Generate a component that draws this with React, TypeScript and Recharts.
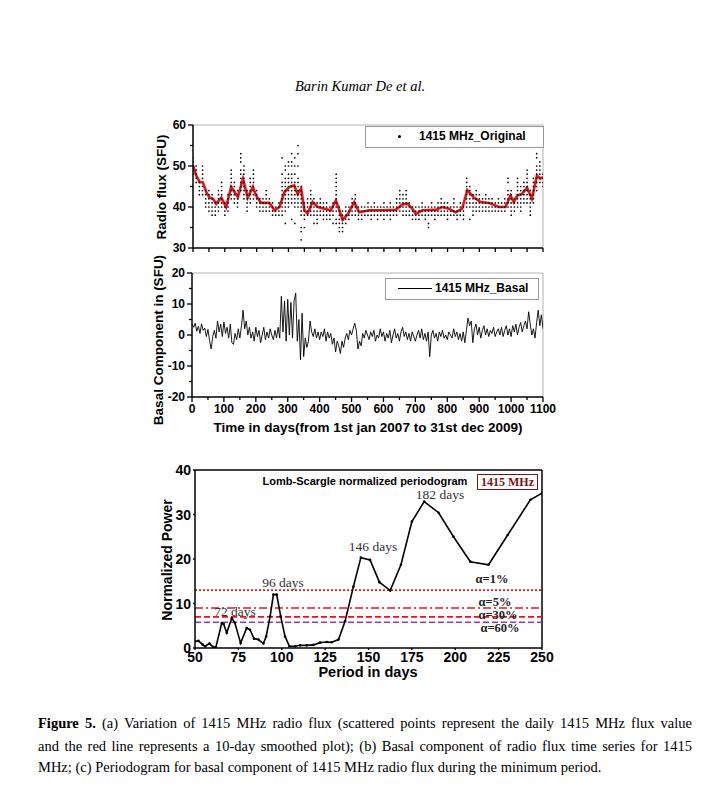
import React from "react";
import { ComposedChart, Line, Scatter, XAxis, YAxis, ReferenceLine } from "recharts";

const SANS = "'Liberation Sans', Arial, sans-serif";
const SERIF = "'Liberation Serif', 'Times New Roman', serif";

// (a) daily 1415 MHz flux, one column of readings every 10 days
const fluxColumns = [
  [52, 51, 50, 49, 48], [50, 49, 48, 47, 46], [46, 45, 44, 43], [50, 49, 48, 47, 45, 44, 43],
  [44, 43, 42, 41, 40], [44, 43, 42, 41, 40, 39], [43, 42, 41, 40, 39, 38], [41, 40, 39, 38],
  [44, 43, 42, 41, 40, 39], [46, 45, 44, 43, 42, 41, 40], [41, 40, 39, 38], [43, 42, 41, 40, 39],
  [49, 48, 47, 46, 45, 44, 43, 42], [46, 45, 44, 43, 42, 41], [44, 43, 42, 41, 40],
  [53, 52, 51, 49, 48, 47, 46, 45, 44], [50, 49, 48, 47, 46, 45, 44, 43, 42], [44, 43, 42, 41, 40, 39],
  [47, 46, 45, 44, 43, 42, 41], [49, 48, 47, 46, 45, 44, 43, 42], [44, 43, 42, 41, 40],
  [42, 41, 40, 39], [42, 41, 40, 39], [44, 43, 42, 41, 40, 39], [42, 41, 40, 39], [41, 40, 39, 38],
  [40, 39, 38], [41, 40, 39, 38], [52, 48, 46, 45, 44, 43, 42, 41, 40, 39, 38],
  [50, 49, 47, 46, 45, 44, 43, 42, 41, 40, 39, 36], [51, 50, 48, 47, 46, 45, 44, 43, 42, 41, 40],
  [53, 51, 50, 48, 47, 46, 45, 44, 43, 42, 41, 37], [52, 50, 48, 46, 45, 44, 43, 42, 41, 40, 36],
  [55, 53, 50, 47, 46, 45, 44, 43, 42, 41, 40], [45, 44, 43, 42, 41, 40, 39, 38, 35, 34, 32],
  [41, 40, 39, 38, 37, 35], [42, 41, 40, 39, 38], [44, 43, 42, 41, 40, 39, 38], [42, 41, 40, 39, 38, 36],
  [41, 40, 39, 38, 37, 36], [42, 41, 40, 39, 38], [41, 40, 39, 38, 37], [41, 40, 39, 38, 37],
  [40, 39, 38, 37], [41, 40, 39, 38, 36], [48, 47, 46, 45, 44, 43, 42, 41, 40, 39, 37, 36],
  [40, 39, 38, 37, 36, 35, 34], [39, 38, 37, 36, 35, 34], [40, 39, 38, 37, 36], [40, 39, 38, 37],
  [42, 41, 40, 39, 38], [43, 42, 41, 40, 39, 38], [40, 39, 38, 37], [40, 39, 38, 37], [40, 39, 38],
  [41, 40, 39, 38], [40, 39, 38, 37], [41, 40, 39, 38], [40, 39, 38, 37], [40, 39, 38],
  [41, 40, 39, 38, 37], [40, 39, 38], [41, 40, 39, 38, 37], [40, 39, 38], [42, 41, 40, 39, 38],
  [44, 43, 42, 41, 40, 39], [43, 42, 41, 40, 39, 38], [44, 43, 42, 41, 40, 39, 38], [41, 40, 39, 38],
  [40, 39, 38, 37], [40, 39, 38, 37], [40, 39, 38, 37], [41, 40, 39, 38], [40, 39, 38, 37],
  [40, 39, 38, 36, 35], [41, 40, 39, 38], [40, 39, 38, 37], [41, 40, 39, 38], [42, 41, 40, 39, 38],
  [41, 40, 39, 38], [41, 40, 39, 38, 37], [40, 39, 38], [42, 41, 40, 39, 38], [40, 39, 38, 37],
  [41, 40, 39, 38], [40, 39, 38, 37], [47, 46, 45, 44, 43, 42, 41, 40], [45, 44, 43, 42, 41, 40, 37],
  [43, 42, 41, 40, 39, 38], [44, 43, 42, 41, 40, 39], [43, 42, 41, 40, 39], [42, 41, 40, 39],
  [43, 42, 41, 40, 39], [42, 41, 40, 39], [42, 41, 40, 39], [41, 40, 39], [42, 41, 40, 39],
  [41, 40, 39], [42, 41, 40, 39], [47, 46, 44, 43, 42, 41, 40], [44, 43, 42, 41, 40, 39, 38],
  [42, 41, 40, 39], [47, 46, 45, 44, 43, 42, 41, 40], [45, 44, 43, 42, 41, 40, 39],
  [46, 45, 44, 43, 42, 41], [49, 48, 47, 46, 45, 44, 43, 42, 41], [44, 43, 42, 41, 40, 39, 38],
  [47, 46, 45, 44, 43, 42, 41], [53, 52, 50, 49, 48, 47, 46, 45, 44], [51, 50, 49, 48, 47, 46],
  [48, 47, 46, 45],
];

// (a) 10-day smoothed curve
const smoothDays = [
  0, 10, 21, 31, 42, 52, 63, 73, 89, 104, 120, 131, 141, 157, 172, 188, 198, 214, 240, 256,
  272, 287, 303, 318, 329, 340, 350, 360, 376, 392, 413, 433, 449, 460, 470, 486, 507, 522, 554, 595,
  637, 658, 674, 689, 700, 721, 763, 783, 804, 825, 846, 862, 883, 904, 930, 961, 982, 998, 1008, 1019,
  1034, 1050, 1065, 1081, 1092, 1100,
];
const smoothFlux = [
  50.2, 47.7, 46.1, 46, 43.6, 42.3, 42, 40.8, 42.3, 40, 44.9, 43.6, 42.4, 46.9, 42.3, 44.9, 42.8, 41, 41, 39.2,
  40, 43.6, 44.9, 45.3, 43.2, 44.5, 39.2, 38.4, 41.2, 40, 39.6, 39.2, 41.6, 39.2, 36.9, 38.2, 41.2, 38.7, 39.2, 39.2,
  39.3, 40.6, 40.8, 39.6, 38.3, 39.2, 39.3, 40, 39.6, 38.7, 39.6, 44.1, 42.3, 41.2, 41, 40, 40, 42.8, 41.2, 42.8,
  43.2, 44.7, 42, 47.7, 46.9, 47.3,
];

// (b) basal component, one value every 5 days
const basalValues = [
  3.5, 2.5, 3.8, 1.2, 2.8, 0.5, 3.6, 1.5, 2.2, -0.5, 1.8, -1.8, -4.5, -0.5, 1.5, -1, 4.5, 1, 3.5, -0.5,
  4.2, 0.5, 2.5, -1, 3.5, -2.5, -3, 0.5, -1.5, 2, -1, 3, 8, 2, 4.5, 0, 2.5, -1, 1, -2,
  2.5, -0.5, 1.5, -2.5, 0, 2.5, -1.5, 1, -1, 2, 0, -1.5, 1.5, -1, 2.5, -1, 12.5, 1, 11, -2,
  11.5, 0, 10.5, -1, 11, 13.5, -2, 5, -8, 7, -7, -1, -4, -2, 4.5, 1, -0.5, 2, -1, 1,
  -1.5, 1, -0.5, 2, -2, 1, -1, 0.5, -3, -1, -5.5, -2, -3.5, -6, -2, -4, -1, 0.5, -1.5, 1.5,
  0, 2, 3.8, 1.5, -4.5, -2, -3.5, 0.5, -1, 1.5, 0, -1.5, 1, -0.5, 1.5, -2, 0, -1, 2, -0.5,
  1, -2, 0.5, -1, 1.5, -2.5, 0, 2, -1, 0.5, -2, 1, 2.5, -0.5, 1, -1.5, 0.5, -2, 1, -0.5,
  -2, 0, 1.5, -1, 2, -1.5, 0.5, -2, 1, -7, 0, 1.5, -1, 0.5, -2, 1, -0.5, 1.5, -1, 0,
  -1.5, 1, 0, -1, 2, -0.5, 1, -1.5, 0.5, -2, 1, -2.5, 1.5, 5.5, 3, 4.5, -2.5, 2, 3.5, 0,
  2.5, -1, 1.5, 3, 0, 2, -0.5, 1.5, 0.5, 2.5, -0.5, 1, 2, 0, 2.5, -0.5, 1.5, 3, 0, 2,
  -0.5, 3, 1, 3.5, 0, 2.5, 4, 1, 3, 4.5, 2, 7.5, 3.5, 0, 2, -1, 4, 8, 3, 6.5,
  2,
];

// (c) Lomb-Scargle periodogram
const periodDays = [
  50, 52, 54.4, 55.8, 58.3, 60.6, 62, 65.4, 66.5, 68.3, 71.2, 73, 76.3, 79.8, 81.7, 84, 86.5, 89.4, 91, 93.3,
  95.2, 97.1, 99.4, 101.9, 104.4, 107.7, 110.6, 114.4, 118.3, 122.1, 126, 128.8, 132.7, 136.5, 141.3, 145.6,
  150.9, 156.3, 162.5, 168.7, 175, 182.1, 190.4, 199, 208.7, 219.2, 230.2, 243.3, 250,
];
const periodPower = [
  1.5, 1.6, 0.75, 0.4, 1.0, 0.2, 0.15, 5.6, 5.4, 3.4, 6.7, 5.6, 1.1, 4.5, 4.1, 2.1, 1.9, 1.0, 2.6, 7.1,
  12, 12, 7.1, 2.6, 0.4, 0.4, 0.6, 0.6, 0.7, 1.2, 1.35, 1.3, 1.9, 6.0, 13.8, 20.3,
  19.8, 14.8, 12.9, 18.7, 28.4, 32.9, 30.4, 25, 19.4, 18.7, 25.4, 33.3, 34.8,
];
const alphaLevels = [13, 9, 7, 5.8];

const fluxPoints = fluxColumns.flatMap((col, i) => col.map((v) => ({ day: i * 10, flux: v })));
const smoothData = smoothDays.map((d, i) => ({ day: d, flux: smoothFlux[i] }));
const basalData = basalValues.map((v, i) => ({ day: i * 5, basal: v }));
const periodData = periodDays.map((d, i) => ({ period: d, power: periodPower[i] }));

const dayTicks = Array.from({ length: 23 }, (_, i) => i * 50);

const leftTick = (major: number, fontSize: number, len: number, minorLen: number) => (p: any) => {
  const v = p.payload.value;
  const isMajor = Math.abs(v % major) < 1e-6;
  return (
    <g>
      <line x1={p.x} y1={p.y} x2={p.x - (isMajor ? len : minorLen)} y2={p.y} stroke="#000" strokeWidth={1.3} />
      {isMajor && (
        <text x={p.x - len - 2} y={p.y} textAnchor="end" dominantBaseline="central"
          fontFamily={SANS} fontWeight="bold" fontSize={fontSize} fill="#000">{v}</text>
      )}
    </g>
  );
};

const bottomTick = (major: number, fontSize: number, len: number, minorLen: number, labels = true) => (p: any) => {
  const v = p.payload.value;
  const isMajor = Math.abs(v % major) < 1e-6;
  return (
    <g>
      <line x1={p.x} y1={p.y} x2={p.x} y2={p.y + (isMajor ? len : minorLen)} stroke="#000" strokeWidth={1.3} />
      {labels && isMajor && (
        <text x={p.x} y={p.y + len + 2} textAnchor="middle" dominantBaseline="hanging"
          fontFamily={SANS} fontWeight="bold" fontSize={fontSize} fill="#000">{v}</text>
      )}
    </g>
  );
};

const dot = (p: any) => <circle cx={p.cx} cy={p.cy} r={0.85} fill="#000" />;

const abs = (left: number, top: number, extra: React.CSSProperties = {}): React.CSSProperties => ({
  position: "absolute", left, top, ...extra,
});

const bold = (size: number): React.CSSProperties => ({
  fontFamily: SANS, fontWeight: "bold", fontSize: size, color: "#000", whiteSpace: "nowrap",
});

export default function App() {
  return (
    <div style={{ position: "absolute", left: 0, top: 0, width: 709, height: 787, background: "#fff", overflow: "hidden" }}>
      <div style={abs(0, 78, { width: 720, textAlign: "center", fontFamily: SERIF, fontStyle: "italic", fontSize: 14.5 })}>
        Barin Kumar De et al.
      </div>

      {/* (a) original flux */}
      <div style={abs(0, 115)}>
        <ComposedChart width={709} height={145} margin={{ top: 10, right: 166, bottom: 0, left: 153 }}>
          <XAxis dataKey="day" type="number" domain={[0, 1100]} ticks={dayTicks} interval={0}
            height={12} tickSize={0} tickMargin={0} axisLine={{ stroke: "#000", strokeWidth: 1.5 }}
            tick={bottomTick(100, 11, 4, 4, false)} allowDataOverflow />
          <YAxis type="number" domain={[30, 60]} ticks={[30, 35, 40, 45, 50, 55, 60]} interval={0}
            width={40} tickSize={0} tickMargin={0} axisLine={{ stroke: "#000", strokeWidth: 1.5 }}
            tick={leftTick(10, 12, 5, 3)} allowDataOverflow />
          <ReferenceLine y={60} stroke="#b0b0b0" strokeWidth={1} />
          <ReferenceLine x={1100} stroke="#b0b0b0" strokeWidth={1} />
          <Scatter data={fluxPoints} dataKey="flux" shape={dot} isAnimationActive={false} />
          <Line data={smoothData} dataKey="flux" type="linear" stroke="#e3161b" strokeWidth={2.6}
            dot={false} activeDot={false} isAnimationActive={false} />
        </ComposedChart>
      </div>
      <div style={abs(365, 126, { width: 177, height: 20, border: "1px solid #999", background: "#fff" })} />
      <div style={abs(398, 135, { width: 3, height: 3, borderRadius: 2, background: "#000" })} />
      <div style={abs(419, 129, bold(12))}>1415 MHz_Original</div>
      <div style={abs(161, 187, { ...bold(13.5), transform: "translate(-50%, -50%) rotate(-90deg)" })}>Radio flux (SFU)</div>

      {/* (b) basal component */}
      <div style={abs(0, 263)}>
        <ComposedChart width={709} height={159} data={basalData} margin={{ top: 10, right: 166, bottom: 0, left: 152 }}>
          <XAxis dataKey="day" type="number" domain={[0, 1100]} ticks={dayTicks} interval={0}
            height={25} tickSize={0} tickMargin={0} axisLine={{ stroke: "#000", strokeWidth: 1.5 }}
            tick={bottomTick(100, 12, 5, 3)} allowDataOverflow />
          <YAxis type="number" domain={[-20, 20]} ticks={[-20, -15, -10, -5, 0, 5, 10, 15, 20]} interval={0}
            width={40} tickSize={0} tickMargin={0} axisLine={{ stroke: "#000", strokeWidth: 1.5 }}
            tick={leftTick(10, 12, 5, 3)} allowDataOverflow />
          <ReferenceLine y={20} stroke="#b0b0b0" strokeWidth={1} />
          <ReferenceLine x={1100} stroke="#b0b0b0" strokeWidth={1} />
          <Line dataKey="basal" type="linear" stroke="#000" strokeWidth={0.9}
            dot={false} activeDot={false} isAnimationActive={false} />
        </ComposedChart>
      </div>
      <div style={abs(385, 278, { width: 152, height: 20, border: "1px solid #999", background: "#fff" })} />
      <div style={abs(398, 288, { width: 34, height: 1, background: "#000" })} />
      <div style={abs(435, 281, bold(12))}>1415 MHz_Basal</div>
      <div style={abs(158, 340, { ...bold(13.5), transform: "translate(-50%, -50%) rotate(-90deg)" })}>Basal Component in (SFU)</div>
      <div style={abs(368, 427, { ...bold(13.5), transform: "translate(-50%, -50%)" })}>
        Time in days(from 1st jan 2007 to 31st dec 2009)
      </div>

      {/* (c) periodogram */}
      <div style={abs(0, 460)}>
        <ComposedChart width={709} height={213} data={periodData} margin={{ top: 10, right: 167, bottom: 0, left: 155 }}>
          <XAxis dataKey="period" type="number" domain={[50, 250]} ticks={[50, 75, 100, 125, 150, 175, 200, 225, 250]}
            interval={0} height={25} tickSize={0} tickMargin={0} axisLine={{ stroke: "#000", strokeWidth: 1.5 }}
            tick={bottomTick(25, 14, 2, 2)} allowDataOverflow />
          <YAxis type="number" domain={[0, 40]} ticks={[0, 10, 20, 30, 40]} interval={0}
            width={40} tickSize={0} tickMargin={0} axisLine={{ stroke: "#000", strokeWidth: 1.5 }}
            tick={leftTick(10, 14, 2, 2)} allowDataOverflow />
          <ReferenceLine y={40} stroke="#000" strokeWidth={1.5} />
          <ReferenceLine x={250} stroke="#000" strokeWidth={1.5} />
          <ReferenceLine y={alphaLevels[0]} stroke="#e3161b" strokeWidth={1.6} strokeDasharray="2 2" />
          <ReferenceLine y={alphaLevels[1]} stroke="#e3161b" strokeWidth={1.6} strokeDasharray="8 3 2 3" />
          <ReferenceLine y={alphaLevels[2]} stroke="#e3161b" strokeWidth={1.6} strokeDasharray="6 3" />
          <ReferenceLine y={alphaLevels[3]} stroke="#a030d0" strokeWidth={1.6} strokeDasharray="6 3" />
          <Line dataKey="power" type="linear" stroke="#000" strokeWidth={1.6}
            dot={{ r: 1.3, fill: "#000", stroke: "none" }} activeDot={false} isAnimationActive={false} />
        </ComposedChart>
      </div>
      <div style={abs(365, 481, { ...bold(11), transform: "translate(-50%, -50%)" })}>Lomb-Scargle normalized periodogram</div>
      <div style={abs(477, 474, { width: 59, height: 14, border: "1.5px solid #7a1414", fontFamily: SERIF, fontWeight: "bold", fontSize: 12, color: "#7a1414", textAlign: "center", lineHeight: "14px" })}>1415 MHz</div>
      {[
        ["182 days", 440, 495], ["146 days", 373, 547], ["96 days", 283, 583], ["72 days", 235, 612],
      ].map(([t, x, y]) => (
        <div key={t as string} style={abs(x as number, y as number, { fontFamily: SERIF, fontSize: 13.5, color: "#333", whiteSpace: "nowrap", transform: "translate(-50%, -50%)" })}>{t}</div>
      ))}
      {[
        ["α=1%", 492, 579], ["α=5%", 495, 602], ["α=30%", 498, 615], ["α=60%", 500, 628],
      ].map(([t, x, y]) => (
        <div key={t as string} style={abs(x as number, y as number, { fontFamily: SERIF, fontWeight: "bold", fontSize: 12.5, color: "#222", whiteSpace: "nowrap", transform: "translate(-50%, -50%)" })}>{t}</div>
      ))}
      <div style={abs(167, 560, { ...bold(14), transform: "translate(-50%, -50%) rotate(-90deg)" })}>Normalized Power</div>
      <div style={abs(368, 672, { ...bold(14.5), transform: "translate(-50%, -50%)" })}>Period in days</div>

      {/* caption */}
      {[
        [<><b>Figure 5.</b> (a) Variation of 1415 MHz radio flux (scattered points represent the daily 1415 MHz flux value</>, 715, true],
        [<>and the red line represents a 10-day smoothed plot); (b) Basal component of radio flux time series for 1415</>, 738, true],
        [<>MHz; (c) Periodogram for basal component of 1415 MHz radio flux during the minimum period.</>, 759, false],
      ].map(([t, y, j], i) => (
        <div key={i} style={abs(38, y as number, { width: 654, fontFamily: SERIF, fontSize: 14.5, color: "#000", whiteSpace: "nowrap", textAlign: "left", textAlignLast: j ? "justify" : "left" })}>{t as React.ReactNode}</div>
      ))}
    </div>
  );
}
